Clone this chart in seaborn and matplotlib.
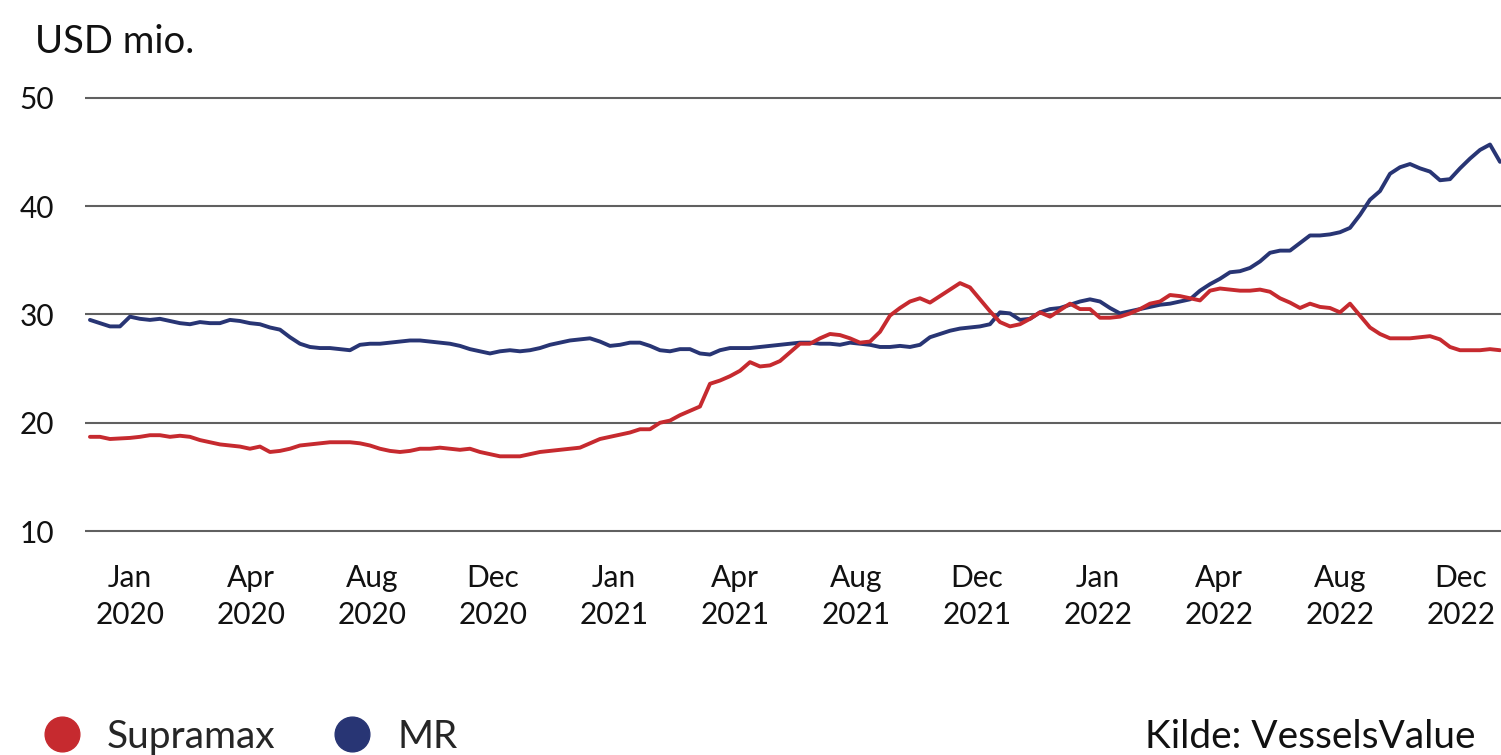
import pandas as pd
import matplotlib.pyplot as plt
from matplotlib.lines import Line2D
import seaborn as sns
import numpy as np

# Værdier (ugentlige observationer, USD mio.)
supramax = [
    18.7, 18.7, 18.5, 18.55, 18.6, 18.7, 18.85, 18.85, 18.7, 18.8,
    18.7, 18.4, 18.2, 18.0, 17.9, 17.8, 17.6, 17.8, 17.3, 17.4,
    17.6, 17.9, 18.0, 18.1, 18.2, 18.2, 18.2, 18.1, 17.9, 17.6,
    17.4, 17.3, 17.4, 17.6, 17.6, 17.7, 17.6, 17.5, 17.6, 17.3,
    17.1, 16.9, 16.9, 16.9, 17.1, 17.3, 17.4, 17.5, 17.6, 17.7,
    18.1, 18.5, 18.7, 18.9, 19.1, 19.4, 19.4, 20.0, 20.2, 20.7,
    21.1, 21.5, 23.6, 23.9, 24.3, 24.8, 25.6, 25.2, 25.3, 25.7,
    26.5, 27.3, 27.3, 27.8, 28.2, 28.1, 27.8, 27.4, 27.5, 28.4,
    29.9, 30.6, 31.2, 31.5, 31.1, 31.7, 32.3, 32.9, 32.5, 31.4,
    30.3, 29.3, 28.9, 29.1, 29.6, 30.2, 29.8, 30.4, 31.0, 30.5,
    30.5, 29.7, 29.7, 29.8, 30.1, 30.5, 31.0, 31.2, 31.8, 31.7,
    31.5, 31.3, 32.2, 32.4, 32.3, 32.2, 32.2, 32.3, 32.1, 31.5,
    31.1, 30.6, 31.0, 30.7, 30.6, 30.2, 31.0, 29.9, 28.8, 28.2,
    27.8, 27.8, 27.8, 27.9, 28.0, 27.7, 27.0, 26.7, 26.7, 26.7,
    26.8, 26.7,
]
mr = [
    29.5, 29.2, 28.9, 28.9, 29.8, 29.6, 29.5, 29.6, 29.4, 29.2,
    29.1, 29.3, 29.2, 29.2, 29.5, 29.4, 29.2, 29.1, 28.8, 28.6,
    27.9, 27.3, 27.0, 26.9, 26.9, 26.8, 26.7, 27.2, 27.3, 27.3,
    27.4, 27.5, 27.6, 27.6, 27.5, 27.4, 27.3, 27.1, 26.8, 26.6,
    26.4, 26.6, 26.7, 26.6, 26.7, 26.9, 27.2, 27.4, 27.6, 27.7,
    27.8, 27.5, 27.1, 27.2, 27.4, 27.4, 27.1, 26.7, 26.6, 26.8,
    26.8, 26.4, 26.3, 26.7, 26.9, 26.9, 26.9, 27.0, 27.1, 27.2,
    27.3, 27.4, 27.4, 27.3, 27.3, 27.2, 27.4, 27.3, 27.2, 27.0,
    27.0, 27.1, 27.0, 27.2, 27.9, 28.2, 28.5, 28.7, 28.8, 28.9,
    29.1, 30.2, 30.1, 29.5, 29.6, 30.2, 30.5, 30.6, 30.9, 31.2,
    31.4, 31.2, 30.6, 30.1, 30.3, 30.5, 30.7, 30.9, 31.0, 31.2,
    31.4, 32.2, 32.8, 33.3, 33.9, 34.0, 34.3, 34.9, 35.7, 35.9,
    35.9, 36.6, 37.3, 37.3, 37.4, 37.6, 38.0, 39.2, 40.6, 41.4,
    43.0, 43.6, 43.9, 43.5, 43.2, 42.4, 42.5, 43.5, 44.4, 45.2,
    45.7, 44.1,
]
tick_labels = [
    'Jan\n2020', 'Apr\n2020', 'Aug\n2020', 'Dec\n2020',
    'Jan\n2021', 'Apr\n2021', 'Aug\n2021', 'Dec\n2021',
    'Jan\n2022', 'Apr\n2022', 'Aug\n2022', 'Dec\n2022',
]
series_names = ['Supramax', 'MR']
colors = {'Supramax': '#C62A2F', 'MR': '#283574'}

sns.set_style('white')
plt.rcParams['font.family'] = ['Lato', 'DejaVu Sans']

df = pd.DataFrame({'uge': np.arange(len(mr)), 'Supramax': supramax, 'MR': mr})
df_long = df.melt(id_vars='uge', var_name='type', value_name='pris')

fig = plt.figure(figsize=(15.01, 7.55), dpi=100)
ax = fig.add_axes([0.0566, 0.2938, 0.9434, 0.5793])

# MR tegnes først, Supramax ovenpå
sns.lineplot(data=df_long, x='uge', y='pris', hue='type', hue_order=['MR', 'Supramax'],
             palette=colors, linewidth=2.8, ax=ax, legend=False)

ax.set_ylim(9.8, 50.2)
ax.set_xlim(-0.5, 141.1)
ax.set_yticks([10, 20, 30, 40, 50])
ax.set_xticks(4 + 12.1 * np.arange(len(tick_labels)))
ax.set_xticklabels(tick_labels, linespacing=1.4)
ax.yaxis.grid(True, color='#606060', linewidth=1.5)
ax.set_axisbelow(True)
ax.tick_params(axis='both', length=0, labelsize=21.5, colors='#111111')
ax.tick_params(axis='x', pad=22)
ax.tick_params(axis='y', pad=22)
for s in ax.spines.values():
    s.set_visible(False)
ax.set_xlabel('')
ax.set_ylabel('')

fig.text(0.0233, 0.944, 'USD mio.', fontsize=27.5, va='center', ha='left', color='#111111')

handles = [Line2D([], [], marker='o', linestyle='', markersize=25, color=colors[n])
           for n in series_names]
fig.legend(handles, series_names, loc='center left', bbox_to_anchor=(0.0283, 0.024),
           ncol=2, frameon=False, fontsize=28, handlelength=1.0, handletextpad=0.66,
           columnspacing=1.47, borderpad=0, borderaxespad=0)
fig.text(0.983, 0.024, 'Kilde: VesselsValue', fontsize=28, va='center', ha='right',
         color='#111111')

fig.savefig('out.png', dpi=100)
